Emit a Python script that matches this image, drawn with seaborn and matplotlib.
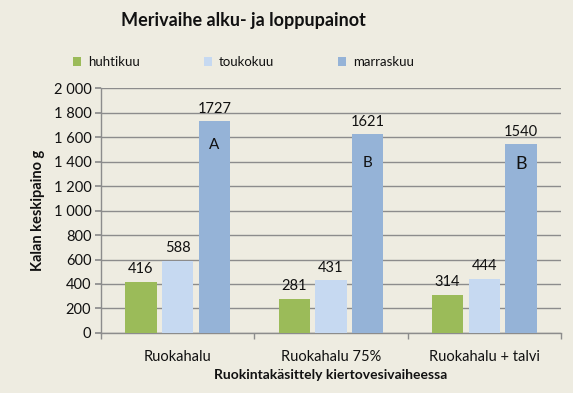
import pandas as pd
import matplotlib.pyplot as plt
import seaborn as sns
from matplotlib.ticker import FuncFormatter

categories = ['Ruokahalu', 'Ruokahalu 75%', 'Ruokahalu + talvi']
months = ['huhtikuu', 'toukokuu', 'marraskuu']
huhtikuu = [416, 281, 314]
toukokuu = [588, 431, 444]
marraskuu = [1727, 1621, 1540]
letters = ['A', 'B', 'B']
letter_pos = [1535, 1390, 1380]

colors = ['#9BBB59', '#C6D9F1', '#95B3D7']
bg = '#EEECE1'

df = pd.DataFrame({
    'kasittely': categories * 3,
    'kuukausi': [m for m in months for _ in categories],
    'paino': huhtikuu + toukokuu + marraskuu,
})

sns.set_theme(style='white')
plt.rcParams['font.family'] = ['Lato', 'DejaVu Sans']

fig = plt.figure(figsize=(5.73, 3.93), dpi=100, facecolor=bg)
ax = fig.add_axes([0.1763, 0.1527, 0.8027, 0.6233])
ax.set_facecolor(bg)

sns.barplot(data=df, x='kasittely', y='paino', hue='kuukausi', order=categories,
            hue_order=months, palette=colors, width=0.717, gap=0.14,
            saturation=1, linewidth=0, ax=ax, legend=True, zorder=3)

for cont in ax.containers:
    ax.bar_label(cont, padding=4, fontsize=10.5, color='#111111')

for i, (t, v) in enumerate(zip(letters, letter_pos)):
    ax.text(i + 0.239, v, t, ha='center', va='center', fontsize=11 if i < 2 else 13,
            color='#111111')

ax.set_xlim(-0.5, 2.5)
ax.set_ylim(0, 2000)
ax.set_yticks(range(0, 2001, 200))
ax.yaxis.set_major_formatter(FuncFormatter(lambda v, p: f'{int(v):,}'.replace(',', ' ')))
ax.grid(axis='y', color='#8C8C8C', linewidth=1, zorder=0)
for s in ['top', 'right']:
    ax.spines[s].set_visible(False)
for s in ['left', 'bottom']:
    ax.spines[s].set_color('#8C8C8C')
    ax.spines[s].set_linewidth(1)

ax.tick_params(axis='y', which='major', left=True, length=4, color='#8C8C8C',
               labelsize=10.5, labelcolor='#111111', pad=3)
ax.tick_params(axis='x', which='major', bottom=False, labelsize=10.5,
               labelcolor='#111111', pad=6)
ax.set_xticks([-0.5, 0.5, 1.5, 2.5], minor=True)
ax.tick_params(axis='x', which='minor', bottom=True, length=4, color='#8C8C8C')

ax.set_xlabel('Ruokintakäsittely kiertovesivaiheessa', fontsize=10, fontweight='bold',
              color='#111111', labelpad=4)
ax.set_ylabel('Kalan keskipaino g', fontsize=10.5, fontweight='bold', color='#111111',
              labelpad=6)

handles, labels = ax.get_legend_handles_labels()
ax.get_legend().remove()
fig.legend(handles, labels, loc='center', bbox_to_anchor=(0.425, 0.842), ncol=3,
           frameon=False, fontsize=9.5, handlelength=0.6, handleheight=0.6,
           handletextpad=0.5, columnspacing=4.9, labelcolor='#111111')

fig.text(0.424, 0.947, 'Merivaihe alku- ja loppupainot', ha='center', va='center',
         fontsize=13, fontweight='bold', color='#111111')

fig.savefig('out.png', dpi=100, facecolor=bg)
